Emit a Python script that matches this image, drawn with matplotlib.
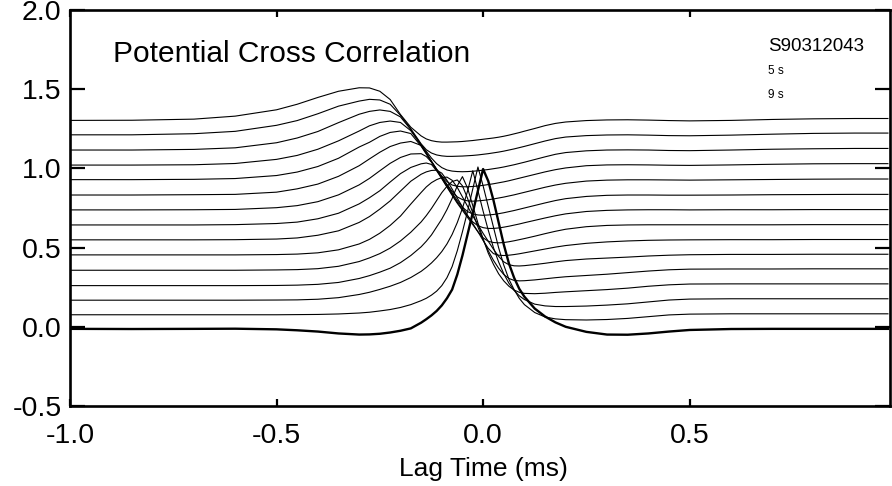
import matplotlib
matplotlib.use("Agg")
import matplotlib.pyplot as plt
from matplotlib.ticker import FormatStrFormatter

plt.rcParams['font.family'] = ['Liberation Sans', 'DejaVu Sans']
plt.rcParams['axes.unicode_minus'] = False

# lag axis (ms), shared by all traces
lag = [-1.0, -0.85, -0.7, -0.6, -0.5, -0.45, -0.4, -0.35, -0.3, -0.275,
       -0.25, -0.225, -0.2, -0.175, -0.15, -0.1375, -0.125, -0.1125, -0.1, -0.0875,
       -0.075, -0.0625, -0.05, -0.0375, -0.025, -0.0125, 0.0, 0.0125, 0.025, 0.0375,
       0.05, 0.0625, 0.075, 0.0875, 0.1, 0.125, 0.15, 0.175, 0.2, 0.25,
       0.3, 0.35, 0.4, 0.45, 0.5, 0.6, 0.7, 0.8, 0.9, 0.98]

# stacked cross correlation traces, bottom (thick, zero lag) to top
curve_00 = [-0.013, -0.014, -0.013, -0.012, -0.016, -0.022, -0.03, -0.042, -0.049, -0.048,
            -0.044, -0.036, -0.025, -0.01, 0.026, 0.048, 0.072, 0.1, 0.135, 0.18,
            0.235, 0.33, 0.45, 0.585, 0.72, 0.86, 0.996, 0.92, 0.8, 0.66,
            0.52, 0.4, 0.31, 0.24, 0.19, 0.115, 0.065, 0.028, 0.0, -0.032,
            -0.049, -0.05, -0.042, -0.03, -0.02, -0.014, -0.013, -0.013, -0.013, -0.013]
curve_01 = [0.076, 0.076, 0.076, 0.076, 0.076, 0.077, 0.078, 0.081, 0.087, 0.092,
            0.1, 0.109, 0.122, 0.14, 0.165, 0.18, 0.2, 0.225, 0.26, 0.31,
            0.38, 0.48, 0.6, 0.73, 0.87, 1.009, 0.89, 0.76, 0.63, 0.5,
            0.39, 0.3, 0.235, 0.18, 0.14, 0.09, 0.062, 0.05, 0.045, 0.043,
            0.046, 0.053, 0.064, 0.075, 0.08, 0.082, 0.082, 0.082, 0.082, 0.082]
curve_02 = [0.168, 0.168, 0.168, 0.168, 0.169, 0.17, 0.174, 0.184, 0.204, 0.218,
            0.236, 0.256, 0.28, 0.311, 0.35, 0.375, 0.403, 0.436, 0.475, 0.523,
            0.583, 0.658, 0.748, 0.858, 0.985, 0.86, 0.73, 0.61, 0.5, 0.41,
            0.335, 0.275, 0.23, 0.196, 0.172, 0.143, 0.132, 0.128, 0.128, 0.131,
            0.137, 0.145, 0.157, 0.169, 0.175, 0.177, 0.177, 0.177, 0.177, 0.177]
curve_03 = [0.26, 0.26, 0.26, 0.26, 0.261, 0.263, 0.268, 0.28, 0.305, 0.323,
            0.345, 0.37, 0.405, 0.45, 0.505, 0.54, 0.58, 0.63, 0.68, 0.74,
            0.81, 0.89, 0.948, 0.875, 0.765, 0.655, 0.555, 0.465, 0.395, 0.335,
            0.29, 0.256, 0.232, 0.218, 0.211, 0.209, 0.212, 0.217, 0.221, 0.228,
            0.235, 0.244, 0.256, 0.265, 0.27, 0.271, 0.271, 0.271, 0.271, 0.271]
curve_04 = [0.357, 0.357, 0.357, 0.357, 0.359, 0.361, 0.367, 0.382, 0.412, 0.435,
            0.462, 0.497, 0.542, 0.597, 0.662, 0.702, 0.747, 0.797, 0.847, 0.887,
            0.917, 0.927, 0.89, 0.81, 0.72, 0.63, 0.55, 0.48, 0.42, 0.37,
            0.33, 0.305, 0.293, 0.29, 0.291, 0.296, 0.303, 0.31, 0.316, 0.324,
            0.332, 0.342, 0.352, 0.36, 0.364, 0.365, 0.365, 0.366, 0.366, 0.366]
curve_05 = [0.454, 0.454, 0.454, 0.454, 0.456, 0.459, 0.467, 0.486, 0.523, 0.552,
            0.591, 0.64, 0.699, 0.775, 0.848, 0.883, 0.91, 0.929, 0.942, 0.945,
            0.925, 0.88, 0.82, 0.76, 0.7, 0.645, 0.59, 0.54, 0.49, 0.445,
            0.41, 0.392, 0.385, 0.384, 0.386, 0.393, 0.401, 0.41, 0.418, 0.428,
            0.434, 0.44, 0.447, 0.452, 0.455, 0.457, 0.457, 0.458, 0.458, 0.458]
curve_06 = [0.549, 0.549, 0.549, 0.55, 0.554, 0.561, 0.578, 0.606, 0.659, 0.696,
            0.743, 0.795, 0.857, 0.919, 0.963, 0.978, 0.987, 0.989, 0.97, 0.925,
            0.87, 0.812, 0.757, 0.703, 0.652, 0.6, 0.545, 0.495, 0.462, 0.452,
            0.45, 0.452, 0.456, 0.461, 0.467, 0.479, 0.491, 0.503, 0.513, 0.527,
            0.536, 0.542, 0.546, 0.548, 0.549, 0.55, 0.55, 0.551, 0.551, 0.551]
curve_07 = [0.643, 0.643, 0.643, 0.645, 0.652, 0.661, 0.682, 0.717, 0.776, 0.815,
            0.859, 0.914, 0.967, 1.006, 1.029, 1.034, 1.025, 0.985, 0.935, 0.882,
            0.83, 0.78, 0.735, 0.69, 0.645, 0.6, 0.562, 0.54, 0.532, 0.53,
            0.532, 0.537, 0.543, 0.55, 0.557, 0.572, 0.588, 0.603, 0.616, 0.632,
            0.64, 0.643, 0.644, 0.644, 0.644, 0.644, 0.644, 0.645, 0.645, 0.645]
curve_08 = [0.738, 0.738, 0.739, 0.741, 0.752, 0.765, 0.79, 0.833, 0.896, 0.937,
            0.985, 1.032, 1.069, 1.091, 1.093, 1.075, 1.04, 0.99, 0.938, 0.886,
            0.836, 0.787, 0.742, 0.70, 0.662, 0.638, 0.626, 0.621, 0.621, 0.624,
            0.629, 0.635, 0.642, 0.649, 0.657, 0.672, 0.687, 0.701, 0.713, 0.728,
            0.735, 0.738, 0.739, 0.739, 0.738, 0.739, 0.739, 0.74, 0.74, 0.74]
curve_09 = [0.832, 0.832, 0.834, 0.836, 0.85, 0.871, 0.901, 0.95, 1.017, 1.06,
            1.102, 1.138, 1.16, 1.17, 1.145, 1.1, 1.045, 0.995, 0.945, 0.895,
            0.845, 0.797, 0.755, 0.727, 0.713, 0.706, 0.704, 0.706, 0.709, 0.714,
            0.72, 0.727, 0.734, 0.742, 0.75, 0.766, 0.782, 0.797, 0.809, 0.823,
            0.83, 0.832, 0.832, 0.831, 0.831, 0.832, 0.834, 0.835, 0.836, 0.836]
curve_10 = [0.929, 0.929, 0.931, 0.936, 0.955, 0.977, 1.012, 1.064, 1.135, 1.165,
            1.202, 1.227, 1.236, 1.22, 1.14, 1.09, 1.04, 0.99, 0.945, 0.9,
            0.855, 0.82, 0.803, 0.795, 0.793, 0.795, 0.798, 0.802, 0.807, 0.813,
            0.819, 0.826, 0.833, 0.841, 0.849, 0.865, 0.881, 0.895, 0.906, 0.92,
            0.926, 0.928, 0.928, 0.927, 0.926, 0.928, 0.93, 0.932, 0.933, 0.933]
curve_11 = [1.021, 1.021, 1.023, 1.031, 1.057, 1.082, 1.121, 1.174, 1.236, 1.269,
            1.29, 1.299, 1.29, 1.238, 1.145, 1.095, 1.045, 0.995, 0.952, 0.917,
            0.895, 0.887, 0.884, 0.884, 0.886, 0.889, 0.893, 0.898, 0.903, 0.909,
            0.915, 0.922, 0.93, 0.938, 0.946, 0.962, 0.978, 0.992, 1.003, 1.017,
            1.022, 1.023, 1.022, 1.02, 1.019, 1.022, 1.026, 1.029, 1.03, 1.03]
curve_12 = [1.116, 1.116, 1.12, 1.13, 1.162, 1.192, 1.233, 1.289, 1.342, 1.36,
            1.369, 1.36, 1.325, 1.245, 1.15, 1.108, 1.065, 1.03, 1.005, 0.99,
            0.983, 0.98, 0.979, 0.98, 0.982, 0.985, 0.989, 0.993, 0.998, 1.003,
            1.009, 1.016, 1.023, 1.031, 1.039, 1.056, 1.073, 1.089, 1.1, 1.111,
            1.116, 1.117, 1.116, 1.113, 1.112, 1.116, 1.121, 1.124, 1.126, 1.126]
curve_13 = [1.212, 1.212, 1.219, 1.234, 1.272, 1.302, 1.345, 1.393, 1.425, 1.436,
            1.432, 1.405, 1.335, 1.25, 1.155, 1.118, 1.097, 1.085, 1.079, 1.076,
            1.076, 1.077, 1.078, 1.08, 1.082, 1.085, 1.089, 1.093, 1.098, 1.103,
            1.109, 1.116, 1.123, 1.131, 1.139, 1.156, 1.173, 1.188, 1.198, 1.207,
            1.211, 1.212, 1.21, 1.207, 1.206, 1.21, 1.216, 1.221, 1.223, 1.223]
curve_14 = [1.303, 1.304, 1.311, 1.33, 1.37, 1.405, 1.448, 1.487, 1.509, 1.508,
            1.487, 1.435, 1.34, 1.26, 1.205, 1.186, 1.175, 1.169, 1.166, 1.166,
            1.167, 1.168, 1.17, 1.173, 1.176, 1.18, 1.184, 1.188, 1.192, 1.197,
            1.203, 1.21, 1.218, 1.226, 1.235, 1.252, 1.27, 1.284, 1.293, 1.302,
            1.306, 1.307, 1.305, 1.302, 1.3, 1.303, 1.309, 1.313, 1.315, 1.315]

curves = [curve_00, curve_01, curve_02, curve_03, curve_04, curve_05, curve_06, curve_07,
          curve_08, curve_09, curve_10, curve_11, curve_12, curve_13, curve_14]

fig = plt.figure(figsize=(8.92, 4.86), dpi=100)
ax = fig.add_axes([70/892, 80/486, 820/892, 396/486])

for i, c in enumerate(curves):
    if i == 0:
        ax.plot(lag, c, color='black', lw=1.7, zorder=3)
    else:
        ax.plot(lag, c, color='black', lw=0.8)

ax.set_xlim(-1.0, 0.985)
ax.set_ylim(-0.5, 2.0)
ax.set_xticks([-1.0, -0.5, 0.0, 0.5])
ax.set_yticks([-0.5, 0.0, 0.5, 1.0, 1.5, 2.0])
ax.xaxis.set_major_formatter(FormatStrFormatter('%.1f'))
ax.yaxis.set_major_formatter(FormatStrFormatter('%.1f'))
ax.tick_params(axis='both', direction='in', top=True, right=True,
               labelsize=20.5, width=1.6, colors='black')
ax.tick_params(axis='x', length=5, pad=12)
ax.tick_params(axis='y', length=11, pad=6)
for s in ax.spines.values():
    s.set_linewidth(1.9)

ax.text(0.052, 0.869, 'Potential Cross Correlation', transform=ax.transAxes, fontsize=21.5)
ax.text(0.851, 0.897, 'S90312043', transform=ax.transAxes, fontsize=13.5)
ax.text(0.851, 0.838, '5 s', transform=ax.transAxes, fontsize=8.5)
ax.text(0.851, 0.779, '9 s', transform=ax.transAxes, fontsize=8.5)
fig.text(483/892, 10/486, 'Lag Time (ms)', ha='center', va='baseline', fontsize=19)

fig.savefig('out.png', dpi=100)
